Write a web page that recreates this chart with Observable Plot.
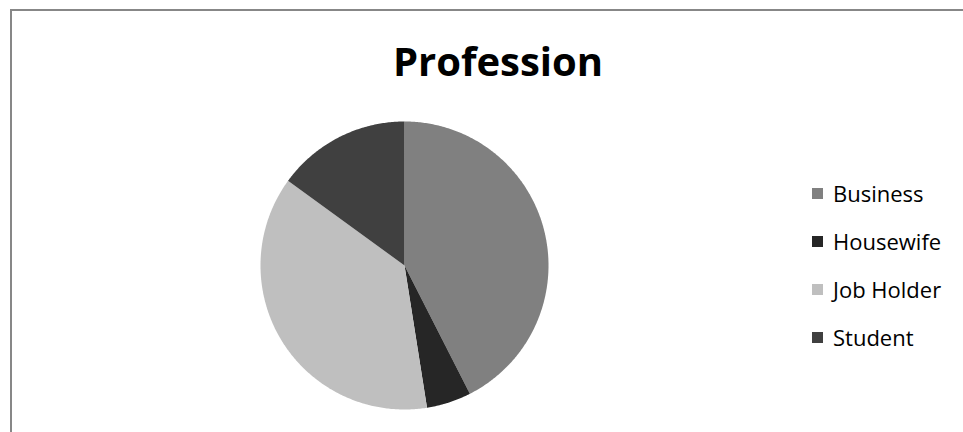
<!DOCTYPE html>
<html>
<head>
<meta charset="utf-8">
<script src="https://cdn.jsdelivr.net/npm/d3@7"></script>
<script src="https://cdn.jsdelivr.net/npm/@observablehq/plot@0.6"></script>
<style>
  html, body { margin: 0; padding: 0; background: #fff; }
  body { width: 963px; height: 432px; position: relative; overflow: hidden; font-family: "Open Sans", sans-serif; }
  #frame { position: absolute; left: 10px; top: 9px; width: 1000px; height: 500px; border: 2px solid #878787; box-sizing: border-box; }
  #title { position: absolute; left: 0; width: 996px; top: 36px; text-align: center; font-weight: bold; font-size: 40px; color: #000; margin: 0; line-height: 50px; }
  #chart { position: absolute; left: 0; top: 0; }
  #legend { position: absolute; left: 812px; top: 169px; }
  .item { display: flex; align-items: center; height: 48px; font-size: 22px; color: #000; }
  .sw { width: 11px; height: 11px; margin-right: 10px; }
</style>
</head>
<body>
<div id="frame"></div>
<div id="title">Profession</div>
<div id="chart"></div>
<div id="legend"></div>
<script>
const categories = ["Business", "Housewife", "Job Holder", "Student"];
const values = [34, 4, 30, 12];
const colors = ["#808080", "#262626", "#bfbfbf", "#404040"];

// build slice outlines from the values (angles from 12 o'clock, clockwise)
const arcs = d3.pie().sort(null).value(d => d.value)(categories.map((c, i) => ({category: c, value: values[i]})));
const pts = [];
for (const a of arcs) {
  const n = Math.max(2, Math.ceil((a.endAngle - a.startAngle) / 0.01));
  pts.push({category: a.data.category, x: 0, y: 0});
  for (let k = 0; k <= n; k++) {
    const t = a.startAngle + (a.endAngle - a.startAngle) * k / n;
    pts.push({category: a.data.category, x: Math.sin(t), y: Math.cos(t)});
  }
}

const chart = Plot.plot({
  width: 963,
  height: 432,
  marginLeft: 260,
  marginRight: 415,
  marginTop: 121,
  marginBottom: 23,
  x: {domain: [-1, 1], axis: null},
  y: {domain: [-1, 1], axis: null},
  color: {domain: categories, range: colors},
  style: {background: "transparent"},
  marks: [
    Plot.line(pts, {x: "x", y: "y", z: "category", fill: "category", stroke: "none", curve: "linear-closed"})
  ]
});
document.getElementById("chart").appendChild(chart);

const legend = document.getElementById("legend");
categories.forEach((c, i) => {
  const row = document.createElement("div");
  row.className = "item";
  const sw = document.createElement("span");
  sw.className = "sw";
  sw.style.background = colors[i];
  const lab = document.createElement("span");
  lab.textContent = c;
  row.appendChild(sw);
  row.appendChild(lab);
  legend.appendChild(row);
});
</script>
</body>
</html>
